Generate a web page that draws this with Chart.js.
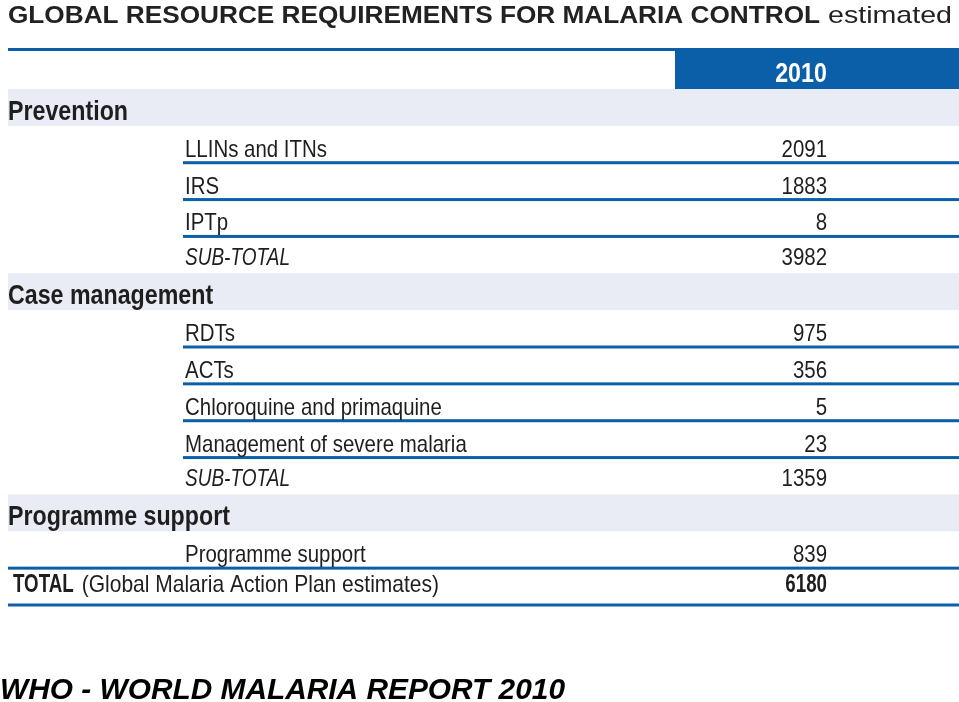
<!DOCTYPE html>
<html><head><meta charset="utf-8">
<script src="https://cdn.jsdelivr.net/npm/chart.js@4.4.1/dist/chart.umd.min.js"></script>
<style>html,body{margin:0;padding:0;background:#fff;overflow:hidden}canvas{display:block}</style>
</head><body>
<canvas id="c" width="959" height="702"></canvas>
<script>
// ---- data ----
const titleText = 'GLOBAL RESOURCE REQUIREMENTS FOR MALARIA CONTROL';
const titleSuffix = 'estimated';
const columnHeader = '2010';
const rowLabels = ['Prevention','LLINs and ITNs','IRS','IPTp','SUB-TOTAL','Case management','RDTs','ACTs','Chloroquine and primaquine','Management of severe malaria','SUB-TOTAL','Programme support','Programme support','TOTAL'];
const rowKinds = ['section','item','item','item','subtotal','section','item','item','item','item','subtotal','section','itemFull','total'];
const values2010 = [null,2091,1883,8,3982,null,975,356,5,23,1359,null,839,6180];
const totalNote = '(Global Malaria Action Plan estimates)';
const sourceNote = 'WHO - WORLD MALARIA REPORT 2010';

// ---- style ----
const BLUE = '#0b5fa9';
const BAND = '#e9ecf4';
const INK = '#1e1e1e';
const FAM = '"Liberation Sans", Arial, sans-serif';

function drawText(ctx, txt, x, y, font, sx, align, color){
  ctx.save();
  ctx.font = font; ctx.fillStyle = color || INK;
  ctx.textBaseline = 'alphabetic';
  ctx.translate(x, y); ctx.scale(sx, 1);
  ctx.textAlign = align || 'left';
  ctx.fillText(txt, 0, 0);
  ctx.restore();
}
function measure(ctx, txt, font){ ctx.save(); ctx.font = font; const w = ctx.measureText(txt).width; ctx.restore(); return w; }
function fit(ctx, txt, x, y, font, width, color){
  const w = measure(ctx, txt, font);
  drawText(ctx, txt, x, y, font, width / w, 'left', color);
}

const tablePlugin = {
  id: 'tableDraw',
  beforeDatasetsDraw(chart){
    const ctx = chart.ctx, ca = chart.chartArea, ys = chart.scales.y;
    const n = rowLabels.length, h = (ys.bottom - ys.top) / n;
    ctx.save();
    ctx.fillStyle = BLUE;
    ctx.fillRect(8, ca.top - 41, ca.right - 8, 3);
    ctx.fillRect(675, ca.top - 41, ca.right - 675, 41);
    rowKinds.forEach((k, i) => {
      if (k !== 'section') return;
      const c = ys.getPixelForValue(i);
      ctx.fillStyle = BAND;
      ctx.fillRect(8, c - h / 2, ca.right - 8, h);
    });
    ctx.restore();
  },
  afterDatasetsDraw(chart){
    const ctx = chart.ctx, ca = chart.chartArea, ys = chart.scales.y;
    const n = rowLabels.length, h = (ys.bottom - ys.top) / n;
    const itemFont = '24px ' + FAM;
    const itemSx = 142 / measure(ctx, 'LLINs and ITNs', itemFont);
    const secFont = 'bold 28px ' + FAM;
    const secSx = 120 / measure(ctx, 'Prevention', secFont);
    const italFont = 'italic 24px ' + FAM;
    const italSx = 105 / measure(ctx, 'SUB-TOTAL', italFont);
    const boldItem = 'bold 25px ' + FAM;
    const numRight = 827;

    fit(ctx, titleText, 8, 23, 'bold 24px ' + FAM, 812, '#222');
    fit(ctx, titleSuffix, 828, 23, '24px ' + FAM, 124, '#222');
    drawText(ctx, columnHeader, 801, ca.top - 7, secFont, secSx, 'center', '#fff');

    rowKinds.forEach((k, i) => {
      const c = ys.getPixelForValue(i);
      const bottom = c + h / 2;
      const v = values2010[i];
      if (k === 'section') {
        drawText(ctx, rowLabels[i], 8, bottom - 6, secFont, secSx, 'left');
        return;
      }
      ctx.save();
      ctx.fillStyle = BLUE;
      if (k === 'item') ctx.fillRect(183, bottom - 1.5, ca.right - 183, 3);
      if (k === 'itemFull' || k === 'total') ctx.fillRect(8, bottom - 1.5, ca.right - 8, 3);
      ctx.restore();
      if (k === 'item' || k === 'itemFull') {
        drawText(ctx, rowLabels[i], 185, bottom - 6, itemFont, itemSx, 'left');
        drawText(ctx, String(v), numRight, bottom - 6, itemFont, itemSx, 'right');
      } else if (k === 'subtotal') {
        drawText(ctx, rowLabels[i], 185, bottom - 8, italFont, italSx, 'left');
        drawText(ctx, String(v), numRight, bottom - 8, itemFont, itemSx, 'right');
      } else if (k === 'total') {
        const bsx = itemSx * 0.88;
        const bw = measure(ctx, rowLabels[i], boldItem) * bsx;
        drawText(ctx, rowLabels[i], 13, bottom - 13, boldItem, bsx, 'left');
        const nw = measure(ctx, totalNote, itemFont);
        drawText(ctx, totalNote, 13 + bw + 8, bottom - 13, itemFont, (439 - (13 + bw + 8)) / nw, 'left');
        drawText(ctx, String(v), numRight, bottom - 13, boldItem, bsx, 'right');
      }
    });

    fit(ctx, sourceNote, 0, 699, 'bold italic 30px ' + FAM, 565, '#000');
  }
};

new Chart(document.getElementById('c'), {
  type: 'bar',
  data: {
    labels: rowLabels,
    datasets: [{ label: columnHeader, data: values2010, backgroundColor: 'rgba(0,0,0,0)', borderWidth: 0 }]
  },
  options: {
    indexAxis: 'y',
    responsive: false,
    animation: false,
    devicePixelRatio: 1,
    layout: { padding: { top: 89, bottom: 97, left: 8, right: 0 } },
    scales: {
      y: { type: 'category', display: false, offset: true },
      x: { type: 'linear', display: false, min: 0, max: 7000 }
    },
    plugins: { legend: { display: false }, tooltip: { enabled: false } }
  },
  plugins: [tablePlugin]
});
</script>
</body></html>
